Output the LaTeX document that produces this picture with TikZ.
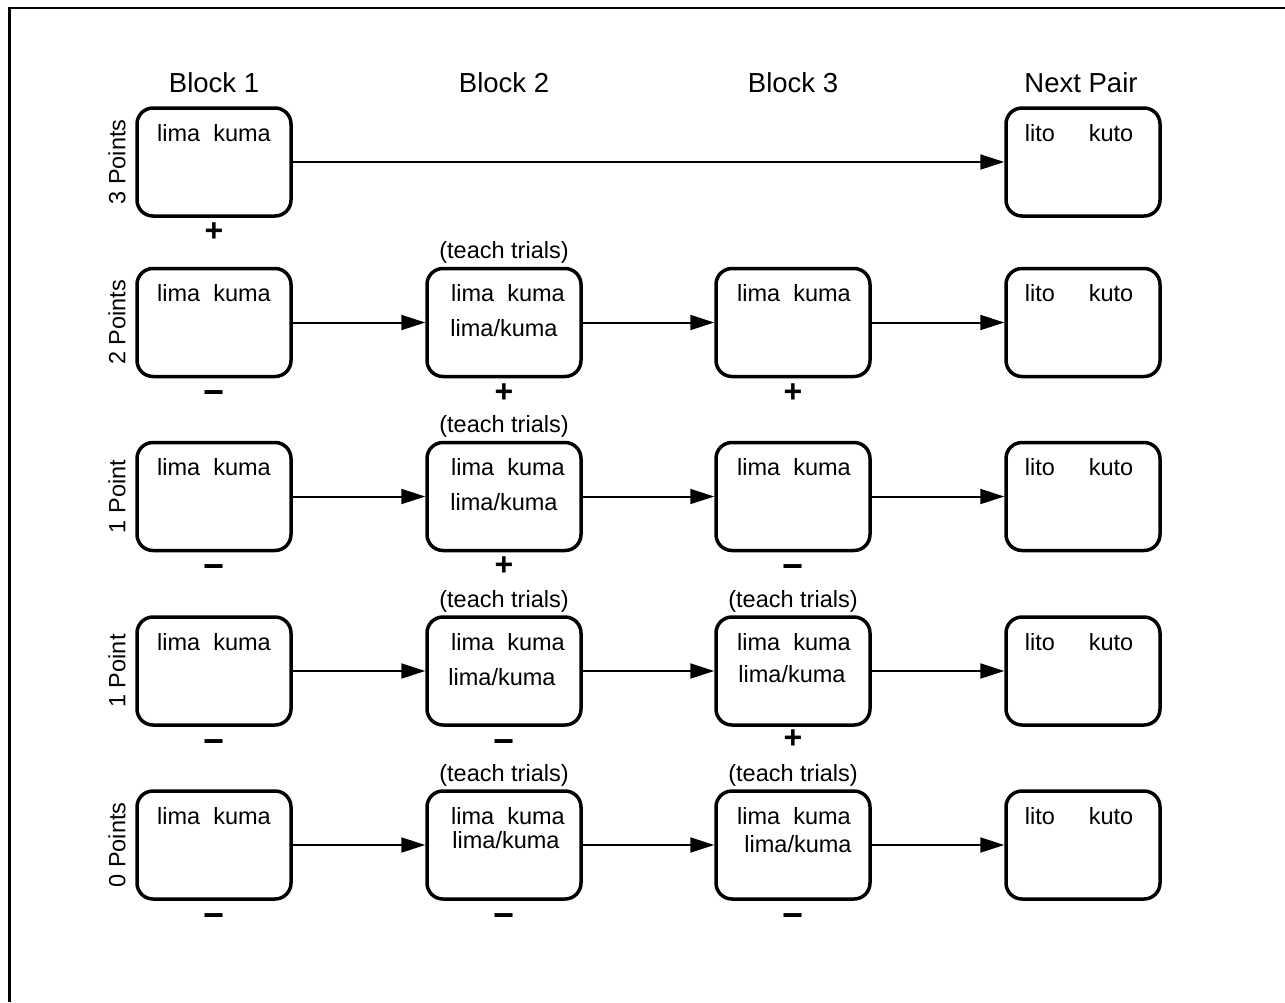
\documentclass[tikz,border=0pt]{standalone}
\usepackage{fontspec}
\setmainfont{Liberation Sans}
\usetikzlibrary{arrows.meta}
\begin{document}
\begin{tikzpicture}[x=1pt,y=-1pt,
 box/.style={draw,line width=3.5pt,rounded corners=16pt,minimum width=154pt,minimum height=108pt,inner sep=0pt},
 txt/.style={font=\fontsize{23.5}{28}\selectfont,anchor=base,inner sep=0pt},
 hdr/.style={font=\fontsize{27.5}{33}\selectfont,anchor=base,inner sep=0pt},
 rowlbl/.style={font=\fontsize{23.5}{28}\selectfont,rotate=90,inner sep=0pt},
 plussign/.style={font=\fontsize{32}{38}\selectfont\bfseries,anchor=base,inner sep=0pt},
 minussign/.style={font=\fontsize{36}{42}\selectfont\bfseries,anchor=base,inner sep=0pt},
 conn/.style={line width=2pt,-{Triangle[length=24pt,width=15pt]}},
 framel/.style={line width=2.5pt}]
\useasboundingbox (0,0) rectangle (1285,1002);
% frame (top and left edges only)
\coordinate (fa) at (9.5,1002);
\coordinate (fb) at (9.5,8);
\coordinate (fc) at (1285,8);
\draw[framel] (fa) -- (fb) -- (fc);
% headers
\node[hdr] (h1) at (214,92) {Block 1};
\node[hdr] (h2) at (504,92) {Block 2};
\node[hdr] (h3) at (793,92) {Block 3};
\node[hdr] (h4) at (1081,92) {Next Pair};
% row labels
\node[rowlbl] (l1) at (117,162) {3 Points};
\node[rowlbl] (l2) at (117,322.5) {2 Points};
\node[rowlbl] (l3) at (117,496.5) {1 Point};
\node[rowlbl] (l4) at (117,671) {1 Point};
\node[rowlbl] (l5) at (117,845) {0 Points};
% ---------- row 1 ----------
\node[box] (b11) at (214,162) {};
\node[box] (b14) at (1083,162) {};
\node[txt] (t11) at (214,141) {lima\ \ kuma};
\node[txt] (t14a) at (1040,141) {lito};
\node[txt] (t14b) at (1111,141) {kuto};
\node[plussign] (s11) at (214,241) {+};
\draw[conn] (b11) -- (b14);
% ---------- row 2 ----------
\node[box] (b21) at (214,322.5) {};
\node[box] (b22) at (504,322.5) {};
\node[box] (b23) at (793,322.5) {};
\node[box] (b24) at (1083,322.5) {};
\node[txt] (t21) at (214,301.5) {lima\ \ kuma};
\node[txt] (q22) at (504,258.5) {(teach trials)};
\node[txt] (t22) at (508,301.5) {lima\ \ kuma};
\node[txt] (u22) at (504,336.5) {lima/kuma};
\node[txt] (t23) at (794,301.5) {lima\ \ kuma};
\node[txt] (t24a) at (1040,301.5) {lito};
\node[txt] (t24b) at (1111,301.5) {kuto};
\node[minussign] (s21) at (214,404) {−};
\node[plussign] (s22) at (504,402) {+};
\node[plussign] (s23) at (793,402) {+};
\draw[conn] (b21) -- (b22);
\draw[conn] (b22) -- (b23);
\draw[conn] (b23) -- (b24);
% ---------- row 3 ----------
\node[box] (b31) at (214,496.5) {};
\node[box] (b32) at (504,496.5) {};
\node[box] (b33) at (793,496.5) {};
\node[box] (b34) at (1083,496.5) {};
\node[txt] (t31) at (214,475.5) {lima\ \ kuma};
\node[txt] (q32) at (504,432.5) {(teach trials)};
\node[txt] (t32) at (508,475.5) {lima\ \ kuma};
\node[txt] (u32) at (504,510.5) {lima/kuma};
\node[txt] (t33) at (794,475.5) {lima\ \ kuma};
\node[txt] (t34a) at (1040,475.5) {lito};
\node[txt] (t34b) at (1111,475.5) {kuto};
\node[minussign] (s31) at (214,578) {−};
\node[plussign] (s32) at (504,575) {+};
\node[minussign] (s33) at (793,578) {−};
\draw[conn] (b31) -- (b32);
\draw[conn] (b32) -- (b33);
\draw[conn] (b33) -- (b34);
% ---------- row 4 ----------
\node[box] (b41) at (214,671) {};
\node[box] (b42) at (504,671) {};
\node[box] (b43) at (793,671) {};
\node[box] (b44) at (1083,671) {};
\node[txt] (t41) at (214,650) {lima\ \ kuma};
\node[txt] (q42) at (504,607) {(teach trials)};
\node[txt] (t42) at (508,650) {lima\ \ kuma};
\node[txt] (u42) at (502,685) {lima/kuma};
\node[txt] (q43) at (793,607) {(teach trials)};
\node[txt] (t43) at (794,650) {lima\ \ kuma};
\node[txt] (u43) at (792,682) {lima/kuma};
\node[txt] (t44a) at (1040,650) {lito};
\node[txt] (t44b) at (1111,650) {kuto};
\node[minussign] (s41) at (214,753) {−};
\node[minussign] (s42) at (504,753) {−};
\node[plussign] (s43) at (793,748) {+};
\draw[conn] (b41) -- (b42);
\draw[conn] (b42) -- (b43);
\draw[conn] (b43) -- (b44);
% ---------- row 5 ----------
\node[box] (b51) at (214,845) {};
\node[box] (b52) at (504,845) {};
\node[box] (b53) at (793,845) {};
\node[box] (b54) at (1083,845) {};
\node[txt] (t51) at (214,824) {lima\ \ kuma};
\node[txt] (q52) at (504,781) {(teach trials)};
\node[txt] (t52) at (508,824) {lima\ \ kuma};
\node[txt] (u52) at (506,848) {lima/kuma};
\node[txt] (q53) at (793,781) {(teach trials)};
\node[txt] (t53) at (794,824) {lima\ \ kuma};
\node[txt] (u53) at (798,852) {lima/kuma};
\node[txt] (t54a) at (1040,824) {lito};
\node[txt] (t54b) at (1111,824) {kuto};
\node[minussign] (s51) at (214,927) {−};
\node[minussign] (s52) at (504,927) {−};
\node[minussign] (s53) at (793,927) {−};
\draw[conn] (b51) -- (b52);
\draw[conn] (b52) -- (b53);
\draw[conn] (b53) -- (b54);
\end{tikzpicture}
\end{document}
